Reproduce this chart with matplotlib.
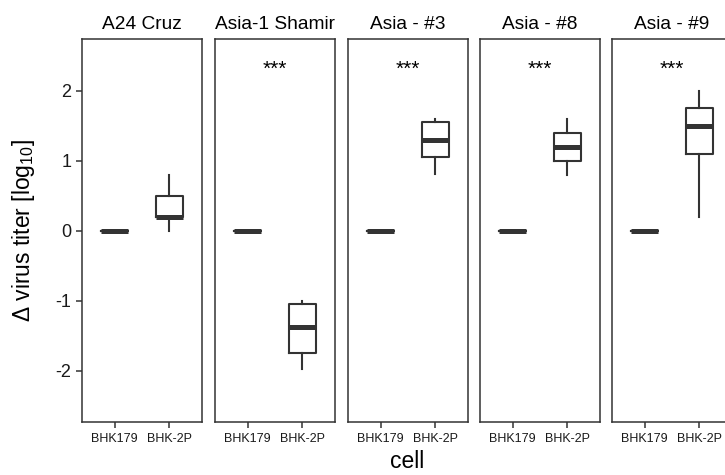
import numpy as np
import matplotlib.pyplot as plt

plt.rcParams['font.family'] = ['Liberation Sans', 'DejaVu Sans']
plt.rcParams['mathtext.fontset'] = 'custom'
plt.rcParams['mathtext.rm'] = 'Liberation Sans'
plt.rcParams['mathtext.it'] = 'Liberation Sans:italic'

# facet panels and cell lines
panels = ["A24 Cruz", "Asia-1 Shamir", "Asia - #3", "Asia - #8", "Asia - #9"]
cells = ["BHK179", "BHK-2P"]
signif = ["", "***", "***", "***", "***"]

# box statistics for BHK-2P (BHK179 is the reference, all zero)
whislo = [0.0, -1.97, 0.81, 0.80, 0.20]
q1 = [0.20, -1.74, 1.06, 1.00, 1.10]
med = [0.20, -1.38, 1.30, 1.20, 1.50]
q3 = [0.50, -1.04, 1.55, 1.40, 1.75]
whishi = [0.80, -1.00, 1.60, 1.60, 2.00]

W, H = 725, 475
fig = plt.figure(figsize=(W / 100, H / 100), dpi=100)

lefts = [82, 215, 348, 480, 612]
pw, top, bottom = 120, 39, 422
dark = "#333333"

for i, name in enumerate(panels):
    ax = fig.add_axes([lefts[i] / W, (H - bottom) / H, pw / W, (bottom - top) / H])
    stats = [
        dict(whislo=0, q1=0, med=0, q3=0, whishi=0),
        dict(whislo=whislo[i], q1=q1[i], med=med[i], q3=q3[i], whishi=whishi[i]),
    ]
    ax.bxp(stats, positions=[1, 2], widths=0.5, showfliers=False, showcaps=False,
           boxprops=dict(color=dark, linewidth=1.5),
           whiskerprops=dict(color=dark, linewidth=1.5),
           medianprops=dict(color=dark, linewidth=3.6, solid_capstyle='butt'))
    ax.set_xlim(0.4, 2.6)
    ax.set_ylim(-2.73, 2.74)
    ax.set_xticks([1, 2])
    ax.set_xticklabels(cells, fontsize=9, color="#1a1a1a")
    ax.set_yticks([-2, -1, 0, 1, 2])
    for sp in ax.spines.values():
        sp.set_color(dark)
        sp.set_linewidth(1.1)
    ax.tick_params(axis='both', direction='out', length=4, width=1.1, color=dark)
    ax.tick_params(axis='x', pad=4)
    if i == 0:
        ax.set_yticklabels(["-2", "-1", "0", "1", "2"], fontsize=13, color="#1a1a1a")
    else:
        ax.tick_params(axis='y', left=False, labelleft=False)
    ax.set_title(name, fontsize=13.8, pad=7)
    if signif[i]:
        ax.text(1.5, 2.3, signif[i], ha='center', va='center', fontsize=15)

fig.text(24 / W, 1 - 230 / H, r"Δ virus titer [log$_{10}$]", rotation=90,
         ha='center', va='center', fontsize=16.5)
fig.text(407 / W, 1 - 462 / H, "cell", ha='center', va='center', fontsize=16.5)

fig.savefig("out.png", dpi=100)
